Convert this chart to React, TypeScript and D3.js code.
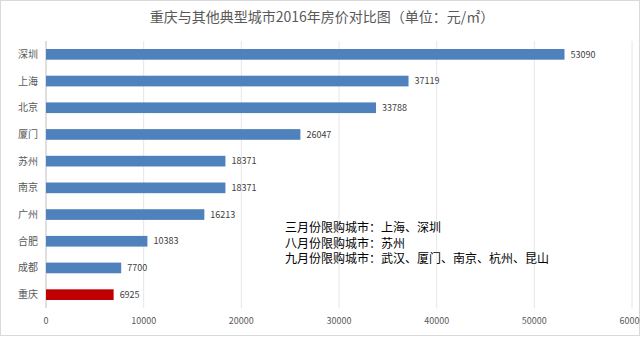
import React from "react";
import * as d3 from "d3";

const cities = ["深圳", "上海", "北京", "厦门", "苏州", "南京", "广州", "合肥", "成都", "重庆"];
const prices = [53090, 37119, 33788, 26047, 18371, 18371, 16213, 10383, 7700, 6925];
const xTicks = [0, 10000, 20000, 30000, 40000, 50000, 60000];
const notes = ["三月份限购城市：上海、深圳", "八月份限购城市：苏州", "九月份限购城市：武汉、厦门、南京、杭州、昆山"];
const title = "重庆与其他典型城市2016年房价对比图（单位：元/㎡）";

const W = 640, H = 337;
const FONT = "'Noto Sans CJK SC', 'Microsoft YaHei', sans-serif";

export default function App() {
  const x = d3.scaleLinear().domain([0, 60000]).range([46, 632]);
  const y = d3.scaleBand<string>().domain(cities).range([41, 308]).paddingInner(0.6).paddingOuter(0.3);
  return (
    <svg width={W} height={H} style={{ position: "absolute", left: 0, top: 0, fontFamily: FONT }}>
      <rect x={0.5} y={0.5} width={W - 1} height={H - 2} fill="#fff" stroke="#d9d9d9" />
      <text x={322} y={22} textAnchor="middle" fontSize={14} fill="#595959">{title}</text>
      {xTicks.map((t) => (
        <g key={t}>
          <line x1={x(t)} x2={x(t)} y1={41} y2={308} stroke={t === 0 ? "#bfbfbf" : "#e6e6e6"} strokeWidth={1} />
          <text x={x(t)} y={324} textAnchor="middle" fontSize={9} fill="#595959">{t}</text>
        </g>
      ))}
      {cities.map((c, i) => (
        <g key={c}>
          <text x={38} y={y(c)! + y.bandwidth() / 2} dy="0.35em" textAnchor="end" fontSize={10} fill="#595959">{c}</text>
          <rect x={x(0)} y={y(c)!} width={x(prices[i]) - x(0)} height={y.bandwidth()} fill={c === "重庆" ? "#C00000" : "#4F81BD"} />
          <text x={x(prices[i]) + 6} y={y(c)! + y.bandwidth() / 2} dy="0.35em" fontSize={9} fill="#404040">{prices[i]}</text>
        </g>
      ))}
      {notes.map((n, i) => (
        <text key={i} x={285} y={232 + i * 15.5} fontSize={12} fill="#000">{n}</text>
      ))}
    </svg>
  );
}
